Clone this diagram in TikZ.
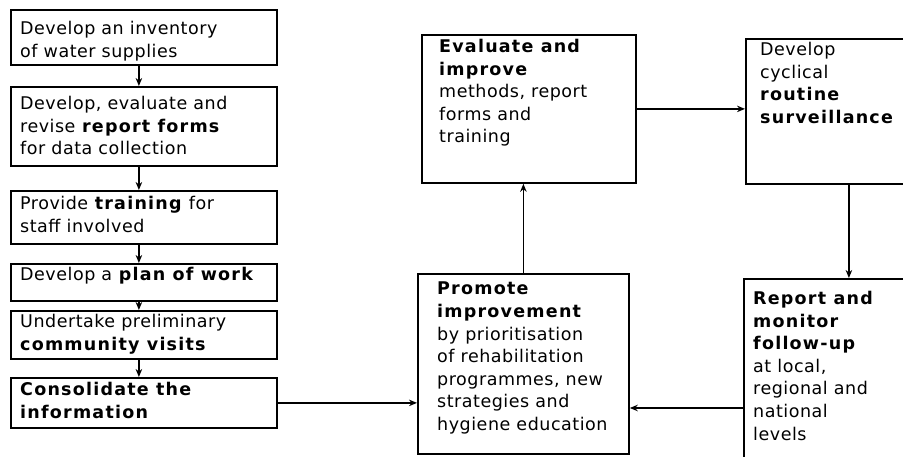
\documentclass[tikz,border=0pt]{standalone}
\usepackage{fontspec}
\setmainfont[LetterSpace=3,BoldFeatures={LetterSpace=7}]{DejaVu Sans}
\usetikzlibrary{arrows.meta}
\tikzset{
  box/.style={draw, line width=1.8pt, anchor=north west, inner sep=0pt},
  txt/.style={anchor=north west, inner sep=0pt, align=left, font=\fontsize{17.5pt}{22.6pt}\selectfont},
  arr/.style={line width=1.6pt, -{Stealth[length=8pt,width=6.5pt]}}
}
\begin{document}
\begin{tikzpicture}[x=1pt,y=1pt]
\clip (0,0) rectangle (903,-457);
\fill[white] (0,0) rectangle (903,-457);
% left column
\node[box, minimum width=266pt, minimum height=55pt] (b1) at (10,-9) {};
\node[box, minimum width=266pt, minimum height=79pt] (b2) at (10,-86) {};
\node[box, minimum width=266pt, minimum height=53pt] (b3) at (10,-190) {};
\node[box, minimum width=266pt, minimum height=37pt] (b4) at (10,-263) {};
\node[box, minimum width=266pt, minimum height=48pt] (b5) at (10,-310) {};
\node[box, minimum width=266pt, minimum height=50pt] (b6) at (10,-377) {};
\node[txt] (t1) at (20,-21) {Develop an inventory\\of water supplies};
\node[txt] (t2) at (20,-96) {Develop, evaluate and\\revise \textbf{report forms}\\for data collection};
\node[txt] (t3) at (20,-196) {Provide \textbf{training} for\\staff involved};
\node[txt] (t4) at (20,-267) {Develop a \textbf{plan of work}};
\node[txt] (t5) at (20,-314) {Undertake preliminary\\\textbf{community visits}};
\node[txt] (t6) at (20,-382) {\textbf{Consolidate the}\\\textbf{information}};
% middle column
\node[box, minimum width=214pt, minimum height=148pt] (ev) at (421,-34) {};
\node[box, minimum width=211pt, minimum height=180pt] (pr) at (417,-273) {};
\node[txt] (tev) at (439,-39) {\textbf{Evaluate and}\\\textbf{improve}\\methods, report\\forms and\\training};
\node[txt] (tpr) at (437,-282) {\textbf{Promote}\\\textbf{improvement}\\by prioritisation\\of rehabilitation\\programmes, new\\strategies and\\hygiene education};
% right column
\node[box, minimum width=210pt, minimum height=145pt] (cy) at (745,-38) {};
\node[box, minimum width=210pt, minimum height=210pt] (rp) at (743,-278) {};
\node[txt] (tcy) at (760,-42) {Develop\\cyclical\\\textbf{routine}\\\textbf{surveillance}};
\node[txt] (trp) at (753,-291) {\textbf{Report and}\\\textbf{monitor}\\\textbf{follow-up}\\at local,\\regional and\\national\\levels};
% connectors
\draw[arr] ([xshift=-5pt]b1.south) -- ([xshift=-5pt]b2.north);
\draw[arr] ([xshift=-5pt]b2.south) -- ([xshift=-5pt]b3.north);
\draw[arr] ([xshift=-5pt]b3.south) -- ([xshift=-5pt]b4.north);
\draw[arr] ([xshift=-5pt]b4.south) -- ([xshift=-5pt]b5.north);
\draw[arr] ([xshift=-5pt]b5.south) -- ([xshift=-5pt]b6.north);
\draw[arr] (b6.east) -- (b6.east -| pr.west);
\draw[arr] (pr.north) -- (pr.north |- ev.south);
\draw[arr] (ev.east) -- (ev.east -| cy.west);
\draw[arr] ([xshift=-2pt]cy.south) -- ([xshift=-2pt]cy.south |- rp.north);
\draw[arr] ([yshift=-130pt]rp.north west) -- ([yshift=-130pt]rp.north west -| pr.east);
\end{tikzpicture}
\end{document}
